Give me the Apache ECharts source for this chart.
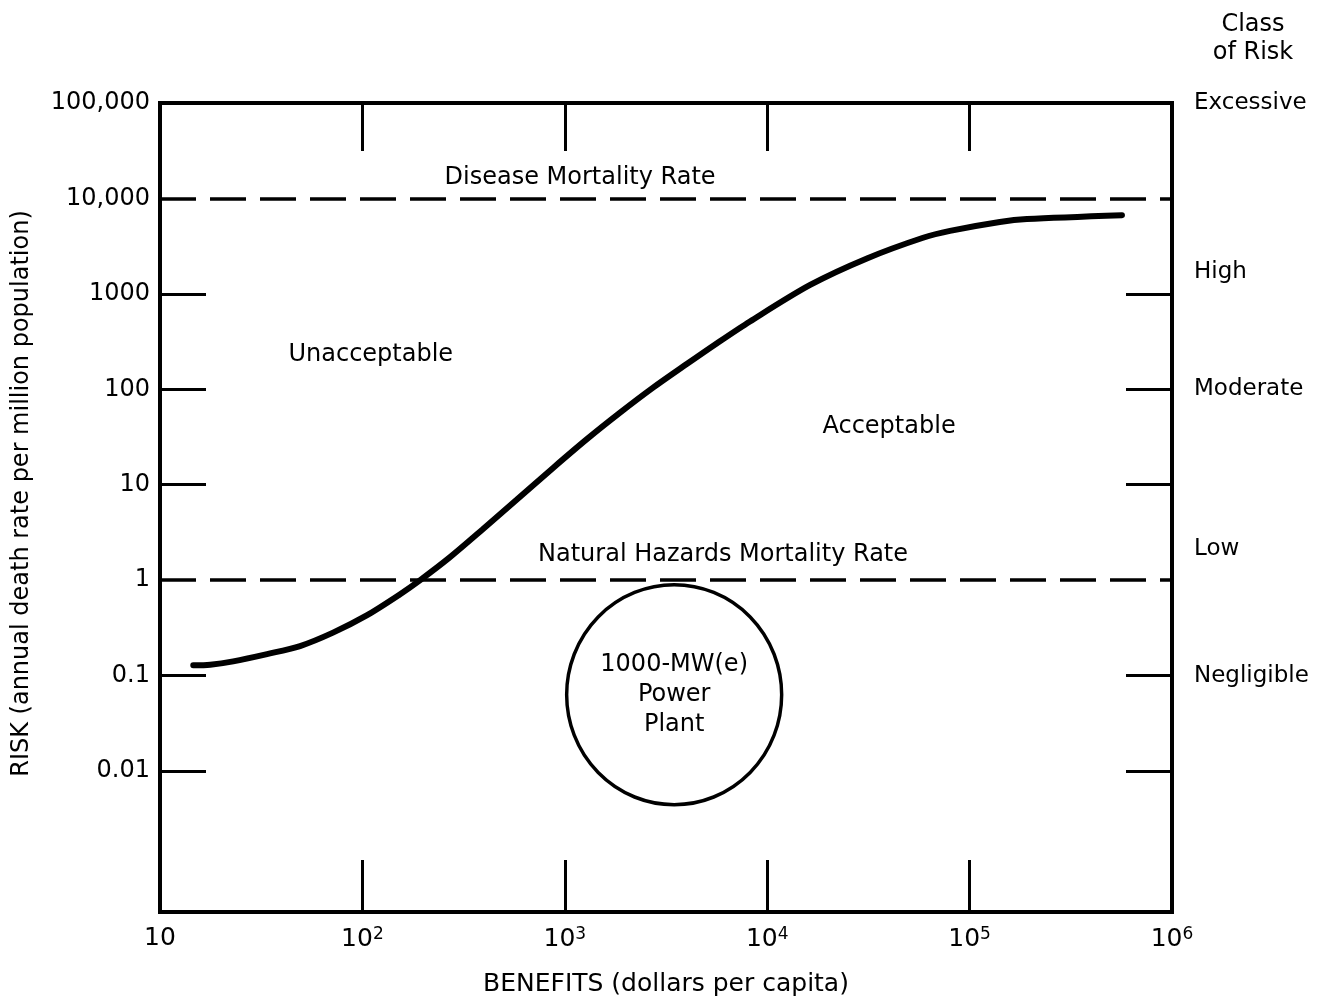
<!DOCTYPE html>
<html><head><meta charset="utf-8">
<script src="https://cdn.jsdelivr.net/npm/echarts@6/dist/echarts.min.js"></script>
<style>html,body{margin:0;padding:0;background:#fff}#c{width:1322px;height:1004px}</style>
</head><body><div id="c"></div>
<script>
// ---- data ----
const benefitTicks = [10, 100, 1000, 10000, 100000, 1000000];
const innerBenefitTicks = [100, 1000, 10000, 100000];
const riskTicks = [100000, 10000, 1000, 100, 10, 1, 0.1, 0.01];
const riskTickLabels = ['100,000', '10,000', '1000', '100', '10', '1', '0.1', '0.01'];
const innerRiskTicks = [1000, 100, 10, 0.1, 0.01];
const curveBenefit = [14.6, 17.7, 23, 33.8, 49.2, 71.6, 105, 153, 193, 271, 392, 580, 875, 1290, 1875, 2730, 4020, 5650, 8220, 16300, 31100, 58900, 80000, 141000, 192000, 566000];
const curveRisk = [0.128, 0.130, 0.141, 0.168, 0.204, 0.282, 0.427, 0.708, 1.0, 1.74, 3.39, 7.0, 15.0, 30.2, 56.9, 104, 185, 304, 514, 1240, 2350, 3870, 4570, 5660, 6080, 6680];
const diseaseRate = 10000;
const naturalRate = 1;
const riskClasses = ['Excessive', 'High', 'Moderate', 'Low', 'Negligible'];
const riskClassLevels = [100000, 1700, 100, 2.1, 0.1];
const noteTexts = ['Disease Mortality Rate', 'Natural Hazards Mortality Rate', 'Unacceptable', 'Acceptable'];
const noteBenefit = [1190, 6050, 110, 40000];
const noteRisk = [16500, 1.85, 230, 40];
const plantText = '1000-MW(e)\nPower\nPlant';
const plantBenefit = 3470;
const plantRisk = 0.063;
const yMin = 0.000333, yMax = 100000, xMin = 10, xMax = 1000000;

// ---- chart ----
const FONT = 'DejaVu Sans';
const INK = '#000';
function near(a, b) { return Math.abs(Math.log10(a) - Math.log10(b)) < 1e-6; }
const chart = echarts.init(document.getElementById('c'), null, { renderer: 'canvas' });
const axisLine = { show: true, lineStyle: { color: INK, width: 4, cap: 'square' } };
const option = {
  animation: false,
  backgroundColor: '#fff',
  textStyle: { fontFamily: FONT, color: INK },
  title: {
    text: 'Class\nof Risk', left: 1248, top: 6, textAlign: 'center',
    textStyle: { fontFamily: FONT, fontSize: 24, lineHeight: 28, fontWeight: 'normal', color: INK }
  },
  grid: { left: 160, right: 150, top: 103, bottom: 92 },
  xAxis: [{
    type: 'log', logBase: 10, min: xMin, max: xMax, position: 'bottom',
    axisLine: axisLine,
    splitLine: { show: false },
    axisTick: { show: true, inside: true, length: 52, customValues: innerBenefitTicks, lineStyle: { color: INK, width: 3 } },
    axisLabel: {
      show: true, margin: 14, customValues: benefitTicks, fontFamily: FONT, fontSize: 25, color: INK,
      formatter: function (v) {
        const e = Math.round(Math.log10(v));
        return e === 1 ? '10' : '10{s|' + e + '}';
      },
      rich: { s: { fontSize: 17, fontFamily: FONT, color: INK, verticalAlign: 'top', padding: [0, 0, 10, 0] } }
    },
    name: 'BENEFITS (dollars per capita)', nameLocation: 'middle', nameGap: 60,
    nameTextStyle: { fontFamily: FONT, fontSize: 25, color: INK }
  }, {
    type: 'log', logBase: 10, min: xMin, max: xMax, position: 'top',
    axisLine: axisLine,
    splitLine: { show: false },
    axisTick: { show: true, inside: true, length: 48, customValues: innerBenefitTicks, lineStyle: { color: INK, width: 3 } },
    axisLabel: { show: false }
  }],
  yAxis: [{
    type: 'log', logBase: 10, min: yMin, max: yMax, position: 'left',
    axisLine: axisLine,
    splitLine: { show: false },
    axisTick: { show: true, inside: true, length: 46, customValues: innerRiskTicks, lineStyle: { color: INK, width: 3 } },
    axisLabel: {
      show: true, margin: 10, customValues: riskTicks, fontFamily: FONT, fontSize: 24, color: INK,
      formatter: function (v) {
        const i = riskTicks.findIndex(t => near(t, v));
        return i >= 0 ? riskTickLabels[i] : '';
      }
    },
    name: 'RISK (annual death rate per million population)', nameLocation: 'middle', nameGap: 126,
    nameTextStyle: { fontFamily: FONT, fontSize: 24, color: INK, padding: [0, 0, 0, 28] }
  }, {
    type: 'log', logBase: 10, min: yMin, max: yMax, position: 'right',
    axisLine: axisLine,
    splitLine: { show: false },
    axisTick: { show: true, inside: true, length: 46, customValues: innerRiskTicks, lineStyle: { color: INK, width: 3 } },
    axisLabel: {
      show: true, margin: 22, customValues: riskClassLevels, fontFamily: FONT, fontSize: 23, color: INK, align: 'left',
      formatter: function (v) {
        const i = riskClassLevels.findIndex(t => near(t, v));
        return i >= 0 ? riskClasses[i] : '';
      }
    }
  }],
  series: [{
    type: 'line', name: 'risk curve', xAxisIndex: 0, yAxisIndex: 0,
    data: curveBenefit.map((b, i) => [b, curveRisk[i]]),
    smooth: 0.3, showSymbol: false, silent: true,
    lineStyle: { color: INK, width: 6, cap: 'round' },
    markLine: {
      silent: true, symbol: 'none', label: { show: false },
      lineStyle: { color: INK, width: 3.5, type: [36, 14] },
      data: [{ yAxis: diseaseRate }, { yAxis: naturalRate }]
    }
  }, {
    type: 'scatter', name: 'notes', xAxisIndex: 0, yAxisIndex: 0, silent: true,
    symbolSize: 0, itemStyle: { opacity: 1 },
    data: noteTexts.map((t, i) => ({ name: t, value: [noteBenefit[i], noteRisk[i]] })),
    label: { show: true, position: 'inside', formatter: '{b}', fontFamily: FONT, fontSize: 24, color: INK }
  }, {
    type: 'scatter', name: 'plant', xAxisIndex: 0, yAxisIndex: 0, silent: true,
    symbol: 'circle', symbolSize: [215, 220],
    itemStyle: { color: 'rgba(0,0,0,0)', borderColor: INK, borderWidth: 3.5, opacity: 1 },
    data: [{ name: plantText, value: [plantBenefit, plantRisk] }],
    label: { show: true, position: 'inside', formatter: '{b}', fontFamily: FONT, fontSize: 24, lineHeight: 30, color: INK }
  }]
};
chart.setOption(option);
</script>
</body></html>
